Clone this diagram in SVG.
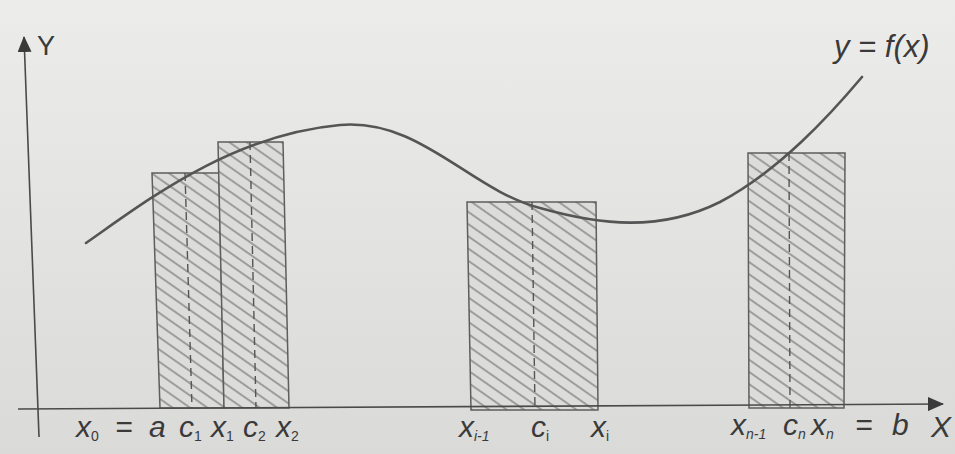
<svg xmlns="http://www.w3.org/2000/svg" width="955" height="454" viewBox="0 0 955 454">
  <defs>
    <linearGradient id="bg" x1="0" y1="0" x2="0" y2="1">
      <stop offset="0" stop-color="#ececea"/>
      <stop offset="1" stop-color="#dadad8"/>
    </linearGradient>
    <pattern id="hatch" patternUnits="userSpaceOnUse" width="20" height="10" patternTransform="rotate(35)">
      <rect x="0" y="0" width="20" height="10" fill="#dcdcda"/>
      <line x1="0" y1="5" x2="20" y2="5" stroke="#6a6a6a" stroke-width="1.1"/>
    </pattern>
    <marker id="arrow" markerWidth="16" markerHeight="14" refX="15" refY="7" orient="auto" markerUnits="userSpaceOnUse">
      <path d="M0,0 L16,7 L0,14 Z" fill="#3a3a3a"/>
    </marker>
  </defs>
  <style>
    .bar { fill: url(#hatch); stroke: #5e5e5e; stroke-width: 1.5; }
    .mid { stroke: #555; stroke-width: 1.4; stroke-dasharray: 8 5; fill: none; }
    .axis { stroke: #4a4a4a; stroke-width: 1.6; fill: none; }
    .curve { stroke: #555; stroke-width: 2.6; fill: none; stroke-linecap: round; }
    .lab { font-family: "Liberation Sans", Arial, sans-serif; font-style: italic; font-size: 30px; fill: #3a3a3a; }
    .sub { font-size: 14px; }
    .n { font-style: normal; }
    .up { font-family: "Liberation Sans", Arial, sans-serif; font-size: 27px; fill: #3a3a3a; }
  </style>
  <rect x="0" y="0" width="955" height="454" fill="url(#bg)"/>

  <g id="rect-1">
    <polygon class="bar" points="152,173 219,173 224,408 160,408"/>
    <line class="mid" x1="185" y1="173" x2="192" y2="408"/>
  </g>
  <g id="rect-2">
    <polygon class="bar" points="218,142 283,142 289,408 224,408"/>
    <line class="mid" x1="250" y1="142" x2="256" y2="408"/>
  </g>
  <g id="rect-i">
    <polygon class="bar" points="467,202 596,202 598,410 471,410"/>
    <line class="mid" x1="532" y1="202" x2="535" y2="410"/>
  </g>
  <g id="rect-n">
    <polygon class="bar" points="748,153 845,153 844,408 749,408"/>
    <line class="mid" x1="789" y1="153" x2="790" y2="408"/>
  </g>

  <g id="connectors">
    <line class="axis" x1="39" y1="437" x2="24" y2="37" marker-end="url(#arrow)"/>
    <line class="axis" x1="18" y1="409" x2="943" y2="404" marker-end="url(#arrow)"/>
    <path id="curve" class="curve" d="M86,243 C145,202 230,135 340,125 C420,118 470,190 540,208 C600,225 660,232 720,202 C780,170 830,115 862,77"/>
  </g>

  <g id="labels">
    <text class="up" x="37" y="55">Y</text>
    <text class="lab" x="834" y="57" style="font-size:31px">y = f(x)</text>
    <text class="lab" x="76" y="437">x<tspan class="sub n" dy="4">0</tspan></text>
    <text class="lab" x="115" y="437">=</text>
    <text class="lab" x="149" y="437">a</text>
    <text class="lab" x="179" y="437">c<tspan class="sub n" dy="4">1</tspan></text>
    <text class="lab" x="211" y="437">x<tspan class="sub n" dy="4">1</tspan></text>
    <text class="lab" x="243" y="437">c<tspan class="sub n" dy="4">2</tspan></text>
    <text class="lab" x="276" y="437">x<tspan class="sub n" dy="4">2</tspan></text>
    <text class="lab" x="459" y="437">x<tspan class="sub" dy="4">i-1</tspan></text>
    <text class="lab" x="531" y="437">c<tspan class="sub n" dy="4">i</tspan></text>
    <text class="lab" x="591" y="437">x<tspan class="sub n" dy="4">i</tspan></text>
    <text class="lab" x="731" y="435">x<tspan class="sub" dy="4">n-1</tspan></text>
    <text class="lab" x="783" y="435">c<tspan class="sub" dy="4">n</tspan></text>
    <text class="lab" x="811" y="435">x<tspan class="sub" dy="4">n</tspan></text>
    <text class="lab" x="855" y="435">=</text>
    <text class="lab" x="892" y="435">b</text>
    <text class="lab" x="931" y="437">X</text>
  </g>
</svg>
